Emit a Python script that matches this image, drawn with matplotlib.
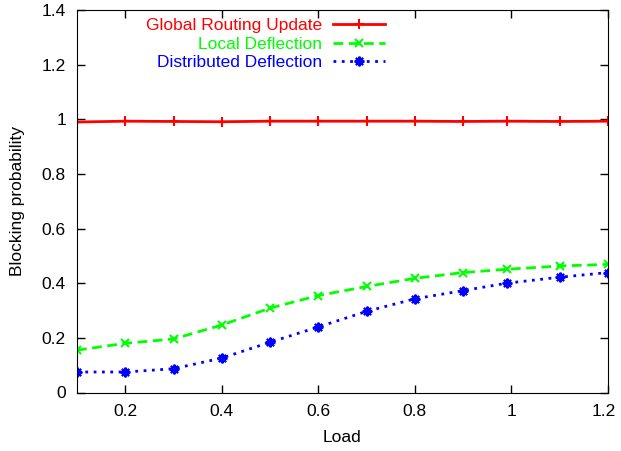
import matplotlib
matplotlib.use("Agg")
import matplotlib.pyplot as plt
import matplotlib.transforms as mtransforms

plt.rcParams['font.family'] = ['Liberation Sans', 'DejaVu Sans']
plt.rcParams['font.size'] = 12.5

load = [0.1, 0.2, 0.3, 0.4, 0.5, 0.6, 0.7, 0.8, 0.9, 0.99, 1.1, 1.2]
global_update = [0.990, 0.993, 0.992, 0.991, 0.993, 0.993, 0.993, 0.993, 0.992, 0.993, 0.992, 0.993]
local_deflection = [0.155, 0.180, 0.196, 0.247, 0.309, 0.355, 0.388, 0.418, 0.439, 0.451, 0.463, 0.469]
distributed_deflection = [0.075, 0.075, 0.087, 0.126, 0.184, 0.240, 0.297, 0.343, 0.373, 0.400, 0.422, 0.439]

x_ticks = [0.2, 0.4, 0.6, 0.8, 1.0, 1.2]
x_tick_labels = ['0.2', '0.4', '0.6', '0.8', '1', '1.2']
y_ticks = [0, 0.2, 0.4, 0.6, 0.8, 1.0, 1.2, 1.4]
y_tick_labels = ['0', '0.2', '0.4', '0.6', '0.8', '1', '1.2', '1.4']

fig = plt.figure(figsize=(6.21, 4.51), dpi=100)
ax = fig.add_axes([77 / 621, 1 - 392.5 / 451, 531 / 621, 382.5 / 451])

ax.plot(load, global_update, color='#ff0000', linestyle='-', linewidth=2,
        marker='+', markersize=7, markeredgewidth=1.5, label='Global Routing Update')
ax.plot(load, local_deflection, color='#00ff00', linestyle=(0, (3.5, 2)), linewidth=2,
        marker='x', markersize=6, markeredgewidth=1.5, label='Local Deflection')
ax.plot(load, distributed_deflection, color='#0000ff', linestyle=(0, (1, 2)), linewidth=2,
        marker=(8, 2, 0), markersize=7, markeredgewidth=1.5, label='Distributed Deflection')

ax.set_xlim(0.1, 1.2)
ax.set_ylim(0, 1.4)
ax.set_xticks(x_ticks)
ax.set_xticklabels(x_tick_labels)
ax.set_yticks(y_ticks)
ax.set_yticklabels(y_tick_labels)
ax.tick_params(direction='in', top=True, right=True, length=6, width=1, pad=8)

# last x label sits a bit left of its tick, like gnuplot does
last = ax.get_xticklabels()[-1]
last.set_transform(last.get_transform() + mtransforms.ScaledTranslation(-4 / 100, 0, fig.dpi_scale_trans))

ax.set_xlabel('Load', va='center')
ax.set_ylabel('Blocking probability', va='center')
ax.xaxis.set_label_coords(0.5, (392.5 - 438) / 382.5)
ax.yaxis.set_label_coords((18 - 77) / 531, 0.5)

leg = fig.legend(loc='upper right', bbox_to_anchor=(385 / 621, 1 - 18 / 451),
                 frameon=False, markerfirst=False, labelcolor='linecolor',
                 handlelength=3.0, handletextpad=0.6, labelspacing=0.2,
                 borderpad=0, borderaxespad=0)

fig.savefig('out.png', dpi=100)
